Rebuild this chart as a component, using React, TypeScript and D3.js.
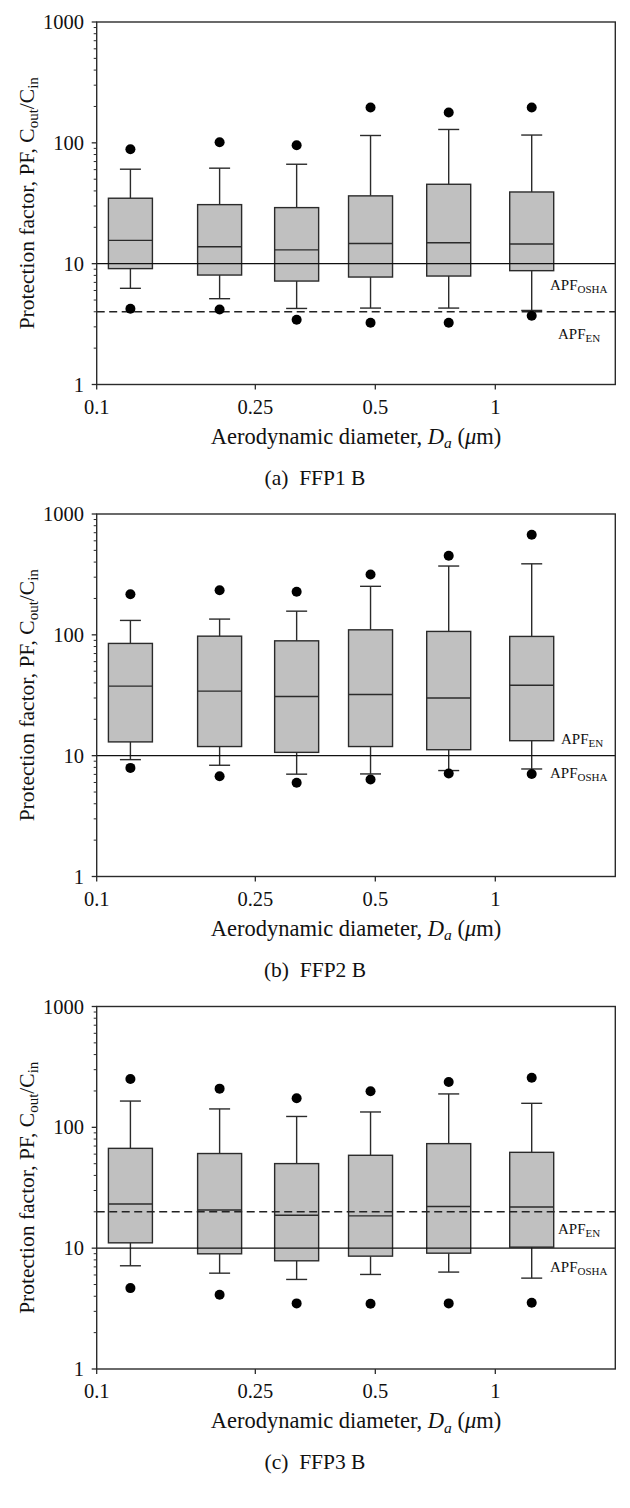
import React from "react";
import * as d3 from "d3";

// ---- Data ----
const xPositions = [0.1215, 0.2034, 0.3174, 0.4864, 0.764, 1.234];
const xTicks = [0.1, 0.25, 0.5, 1];
const yTicks = [1, 10, 100, 1000];

// Panel (a) FFP1 B
const outHighA = [88.6, 101, 95.6, 196, 178, 196];
const whiskHighA = [60.5, 61.7, 66.5, 115, 129, 116];
const q3A = [34.8, 30.8, 29.1, 36.4, 45.4, 39.2];
const medA = [15.6, 13.8, 13.0, 14.7, 14.9, 14.55];
const q1A = [9.1, 8.05, 7.18, 7.75, 7.9, 8.75];
const whiskLowA = [6.25, 5.13, 4.26, 4.29, 4.29, 4.1];
const outLowA = [4.24, 4.18, 3.44, 3.24, 3.24, 3.71];

// Panel (b) FFP2 B
const outHighB = [217, 234, 227, 316, 451, 674];
const whiskHighB = [131.6, 135, 157, 252, 371, 387];
const q3B = [84.9, 97.5, 89.2, 110, 106.7, 97];
const medB = [37.6, 34.2, 30.9, 32.1, 30.0, 38.3];
const q1B = [13.0, 11.9, 10.65, 11.9, 11.2, 13.3];
const whiskLowB = [9.27, 8.33, 7.03, 7.06, 7.53, 7.76];
const outLowB = [7.92, 6.76, 5.96, 6.35, 7.11, 7.06];

// Panel (c) FFP3 B
const outHighC = [251, 209, 174, 199, 237, 257];
const whiskHighC = [165, 142, 123, 134, 189, 158];
const q3C = [67, 60.7, 50.1, 58.7, 73.3, 62.1];
const medC = [23.2, 20.7, 18.7, 18.5, 22.1, 21.9];
const q1C = [11.07, 8.98, 7.86, 8.59, 9.09, 10.2];
const whiskLowC = [7.15, 6.21, 5.51, 6.06, 6.34, 5.65];
const outLowC = [4.67, 4.11, 3.49, 3.47, 3.49, 3.53];

const captions = ["(a)  FFP1 B", "(b)  FFP2 B", "(c)  FFP3 B"];
const apfOsha = [10, 10, 10];
const apfEn = [4, 10, 20];

const panels = [
  { outHigh: outHighA, wH: whiskHighA, q3: q3A, med: medA, q1: q1A, wL: whiskLowA, outLow: outLowA },
  { outHigh: outHighB, wH: whiskHighB, q3: q3B, med: medB, q1: q1B, wL: whiskLowB, outLow: outLowB },
  { outHigh: outHighC, wH: whiskHighC, q3: q3C, med: medC, q1: q1C, wL: whiskLowC, outLow: outLowC },
];

// ---- Layout ----
const W = 630;
const H = 1508;
const L = 96.7;
const R = 615.3;
const tops = [22, 514, 1006.5];
const PH = 362.5;
const BOX_W = 44;
const CAP_W = 21;
const FONT = "'Liberation Serif', 'Times New Roman', serif";
const STROKE = "#2b2b2b";

const labelLayout = [
  { osha: 26, en: 27, enDraw: true },
  { osha: 22, en: -12, enDraw: false },
  { osha: 24, en: 22, enDraw: true },
];

function Panel({ idx }: { idx: number }) {
  const top = tops[idx];
  const bottom = top + PH;
  const d = panels[idx];
  const x = d3.scaleLog().domain([0.1, 2]).range([L, R]);
  const y = d3.scaleLog().domain([1, 1000]).range([bottom, top]);
  const minor: number[] = [];
  [1, 10, 100].forEach((dec) => {
    for (let k = 2; k <= 9; k++) minor.push(dec * k);
  });
  const cx = (L + R) / 2;
  const lay = labelLayout[idx];
  const yO = y(apfOsha[idx]);
  const yE = y(apfEn[idx]);
  return (
    <g>
      {xPositions.map((xv, i) => {
        const c = x(xv);
        return (
          <g key={i} stroke={STROKE} strokeWidth={1.4}>
            <line x1={c} x2={c} y1={y(d.wH[i])} y2={y(d.q3[i])} />
            <line x1={c - CAP_W / 2} x2={c + CAP_W / 2} y1={y(d.wH[i])} y2={y(d.wH[i])} />
            <line x1={c} x2={c} y1={y(d.q1[i])} y2={y(d.wL[i])} />
            <line x1={c - CAP_W / 2} x2={c + CAP_W / 2} y1={y(d.wL[i])} y2={y(d.wL[i])} />
            <rect x={c - BOX_W / 2} y={y(d.q3[i])} width={BOX_W} height={y(d.q1[i]) - y(d.q3[i])} fill="#c0c0c0" />
            <line x1={c - BOX_W / 2} x2={c + BOX_W / 2} y1={y(d.med[i])} y2={y(d.med[i])} />
          </g>
        );
      })}
      <line x1={L} x2={R} y1={yO} y2={yO} stroke="#111" strokeWidth={1.3} />
      {lay.enDraw && (
        <line x1={L} x2={R} y1={yE} y2={yE} stroke="#222" strokeWidth={1.4} strokeDasharray="8,4.5" />
      )}
      {xPositions.map((xv, i) => (
        <g key={"o" + i} fill="#000">
          <circle cx={x(xv)} cy={y(d.outHigh[i])} r={5} />
          <circle cx={x(xv)} cy={y(d.outLow[i])} r={5} />
        </g>
      ))}
      <rect x={L} y={top} width={R - L} height={PH} fill="none" stroke={STROKE} strokeWidth={1.4} />
      {yTicks.map((t) => (
        <g key={"yt" + t}>
          <line x1={L - 5} x2={L} y1={y(t)} y2={y(t)} stroke={STROKE} strokeWidth={1.3} />
          <text x={84} y={y(t)} textAnchor="end" dominantBaseline="central" fontSize={20.5} fontFamily={FONT} fill="#111">
            {t}
          </text>
        </g>
      ))}
      {minor.map((t) => (
        <line key={"ym" + t} x1={L - 3} x2={L} y1={y(t)} y2={y(t)} stroke={STROKE} strokeWidth={1} />
      ))}
      {xTicks.map((t) => (
        <g key={"xt" + t}>
          <line x1={x(t)} x2={x(t)} y1={bottom} y2={bottom + 5} stroke={STROKE} strokeWidth={1.3} />
          <text x={x(t)} y={bottom + 22} textAnchor="middle" dominantBaseline="central" fontSize={20.5} fontFamily={FONT} fill="#111">
            {t}
          </text>
        </g>
      ))}
      <text x={550} y={yO + lay.osha} fontSize={15} fontFamily={FONT} fill="#111">
        APF<tspan fontSize={11} dy={3}>OSHA</tspan>
      </text>
      <text x={idx === 1 ? 561 : 558} y={yE + lay.en} fontSize={15} fontFamily={FONT} fill="#111">
        APF<tspan fontSize={11} dy={3}>EN</tspan>
      </text>
      <text
        transform={`translate(34,${(top + bottom) / 2}) rotate(-90)`}
        textAnchor="middle"
        fontSize={21.5}
        fontFamily={FONT}
        fill="#111"
      >
        Protection factor, PF, C<tspan fontSize={15} dy={4}>out</tspan>
        <tspan dy={-4}>/C</tspan>
        <tspan fontSize={15} dy={4}>in</tspan>
      </text>
      <text x={cx} y={bottom + 59} textAnchor="middle" fontSize={22.5} fontFamily={FONT} fill="#111">
        Aerodynamic diameter, <tspan fontStyle="italic">D</tspan>
        <tspan fontStyle="italic" fontSize={15.5} dy={4.5}>a</tspan>
        <tspan dy={-4.5}> (</tspan>
        <tspan fontStyle="italic">μ</tspan>m)
      </text>
      <text x={W / 2} y={bottom + 100} textAnchor="middle" fontSize={21.5} fontFamily={FONT} fill="#111" style={{ whiteSpace: "pre" }}>
        {captions[idx]}
      </text>
    </g>
  );
}

export default function App() {
  return (
    <svg
      width={W}
      height={H}
      viewBox={`0 0 ${W} ${H}`}
      style={{ position: "absolute", left: 0, top: 0, background: "#fff" }}
    >
      <rect width={W} height={H} fill="#fff" />
      {[0, 1, 2].map((i) => (
        <Panel key={i} idx={i} />
      ))}
    </svg>
  );
}
